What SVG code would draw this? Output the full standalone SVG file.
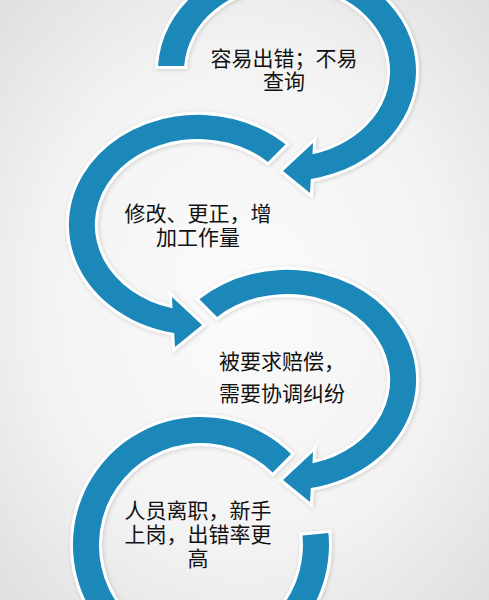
<svg xmlns="http://www.w3.org/2000/svg" width="489" height="600" viewBox="0 0 489 600">
  <defs>
    <radialGradient id="bg" cx="50%" cy="50%" r="75%">
      <stop offset="0" stop-color="#fbfbfb"/>
      <stop offset="0.55" stop-color="#f3f3f3"/>
      <stop offset="1" stop-color="#dcdcdc"/>
    </radialGradient>
    <filter id="sh" x="-20%" y="-20%" width="140%" height="140%">
      <feGaussianBlur in="SourceAlpha" stdDeviation="2"/>
      <feOffset dx="1" dy="1" result="b"/>
      <feFlood flood-color="#000" flood-opacity="0.16"/>
      <feComposite in2="b" operator="in"/>
      <feMerge><feMergeNode/><feMergeNode in="SourceGraphic"/></feMerge>
    </filter>
    <style>
      .arr { fill: #1b88ba; stroke: #ffffff; stroke-width: 6; stroke-linejoin: miter; paint-order: stroke; filter: url(#sh); }
      .lbl { font-family: "Liberation Sans", "Noto Sans CJK SC", sans-serif; font-size: 21px; fill: #111; text-anchor: middle; }
    </style>
  </defs>
  <rect x="0" y="0" width="489" height="600" fill="url(#bg)"/>

  <g id="connectors">
    <path id="arrow-1" class="arr" d="M158.1,66 A129,110 0 1 1 310.8,179 L310,193 L283,171 L313,143 L312.5,154.3 A103,86 0 1 0 184.2,66 Z"/>
    <path id="arrow-2" class="arr" d="M285.6,144.2 A129,110 0 1 0 174.2,333 L175,347 L202,325 L172,297 L172.5,308.3 A103,86 0 1 1 267.9,161.9 Z"/>
    <path id="arrow-3" class="arr" d="M199.4,299.2 A129,110 0 1 1 310.8,488 L310,502 L283,480 L313,452 L312.5,463.3 A103,86 0 1 0 217.1,316.9 Z"/>
    <path id="arrow-4" class="arr" d="M291,454 A128,128 0 1 0 328.4,533 L302.5,535.4 A102,102 0 1 1 272.7,472.5 Z"/>
  </g>

  <g id="node-1">
    <text class="lbl"><tspan x="284" y="65.5">容易出错；不易</tspan><tspan x="284" y="89">查询</tspan></text>
  </g>
  <g id="node-2">
    <text class="lbl"><tspan x="198" y="221">修改、更正，增</tspan><tspan x="198" y="244.5">加工作量</tspan></text>
  </g>
  <g id="node-3">
    <text class="lbl"><tspan x="282" y="369">被要求赔偿，</tspan><tspan x="282" y="401">需要协调纠纷</tspan></text>
  </g>
  <g id="node-4">
    <text class="lbl"><tspan x="198" y="518">人员离职，新手</tspan><tspan x="198" y="542">上岗，出错率更</tspan><tspan x="198" y="565.5">高</tspan></text>
  </g>
</svg>
